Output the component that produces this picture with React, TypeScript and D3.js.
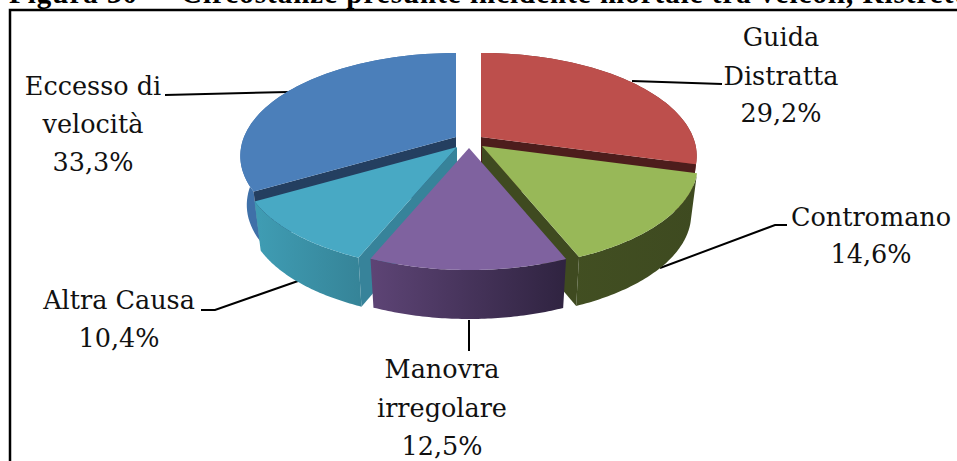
import React from "react";
import * as d3 from "d3";

const categories = ["Guida Distratta", "Contromano", "Manovra irregolare", "Altra Causa", "Eccesso di velocità"];
const shares = [29.2, 14.6, 12.5, 10.4, 33.3];
const shareLabels = ["29,2%", "14,6%", "12,5%", "10,4%", "33,3%"];

const topColors = ["#bd4f4c", "#98b858", "#7f629f", "#48a9c4", "#4b7fba"];
const radialColors = ["#4d1d1c", "#3f4a20", "#3b3052", "#37839a", "#243f60"];
const wallFrom = ["#7a302e", "#424f22", "#5d4475", "#3f9cb3", "#3f70a8"];
const wallTo = ["#7a302e", "#3e4a20", "#2f2340", "#337d90", "#3f70a8"];
const apexX = [481, 482, 469, 457, 456];
const apexY = [137, 146, 148, 147, 137];
const drawOrder = [4, 0, 3, 1, 2];

const RX = 212, RY = 99.5, K = 0.1844, DEPTH = 49, BOTTOM_X = 0.97;
const FONT = "'DejaVu Serif', serif";
const TITLE_FONT = "'Liberation Serif', serif";
const FS = 25.5;

const wallRange = [[241, 260], [565, 700], [372, 567], [258, 390], [241, 262]];

const slices = d3.pie<number>().sort(null).startAngle(0).endAngle(2 * Math.PI)(shares);

type P = [number, number];
const line = d3.line<P>().x(d => d[0]).y(d => d[1]);

function project(i: number, a: number): P {
  const u = Math.sin(a), v = -Math.cos(a);
  const s = 1 / (1 - K * v);
  return [apexX[i] + RX * u * s, apexY[i] + RY * v * s];
}
function arcPts(i: number, a0: number, a1: number): P[] {
  const t = d3.scaleLinear().domain([0, 60]).range([a0, a1]);
  return d3.range(61).map(k => project(i, t(k)));
}
const drop = (i: number, p: P): P => [apexX[i] + (p[0] - apexX[i]) * BOTTOM_X, p[1] + DEPTH];

const labels = [
  { lines: ["Guida", "Distratta", shareLabels[0]], x: 781, y: [46, 85, 122], leader: [[632, 81], [722, 84]] },
  { lines: ["Contromano", shareLabels[1]], x: 871, y: [226, 263], leader: [[660, 268], [775, 225], [787, 225]] },
  { lines: ["Manovra", "irregolare", shareLabels[2]], x: 442, y: [378, 417, 455], leader: [[469, 320], [469, 351]] },
  { lines: ["Altra Causa", shareLabels[3]], x: 119, y: [309, 347], leader: [[298, 281], [215, 310], [201, 310]] },
  { lines: ["Eccesso di", "velocità", shareLabels[4]], x: 93, y: [95, 133, 171], leader: [[288, 92], [165, 95]] },
];

export default function App() {
  return (
    <svg width={957} height={461} style={{ position: "absolute", left: 0, top: 0, background: "#fff" }}>
      <defs>
        {categories.map((_, i) => (
          <linearGradient key={i} id={`w${i}`} gradientUnits="userSpaceOnUse"
            x1={wallRange[i][0]} x2={wallRange[i][1]} y1={0} y2={0}>
            <stop offset="0" stopColor={wallFrom[i]} />
            <stop offset="1" stopColor={wallTo[i]} />
          </linearGradient>
        ))}
      </defs>
      <g fontFamily={TITLE_FONT} fontWeight="bold" fontSize={29} letterSpacing={1}>
        <text x={9} y={3}>Figura 30 –</text>
        <text x={181} y={3}>Circostanze presunte incidente mortale tra veicoli, Ristrette</text>
      </g>
      <path d="M10 461V10H957" fill="none" stroke="#000" strokeWidth={2.5} />
      {labels.map((l, i) => (
        <path key={i} d={line(l.leader as P[]) ?? ""} fill="none" stroke="#000" strokeWidth={2} />
      ))}
      {drawOrder.map(i => {
        const s = slices[i];
        const top = arcPts(i, s.startAngle, s.endAngle);
        const apex: P = [apexX[i], apexY[i]];
        const apexLow = drop(i, apex);
        const bottom = top.map(p => drop(i, p));
        const first = top[0], last = top[top.length - 1];
        const showStart = Math.sin(s.startAngle) < -1e-6;
        const showEnd = Math.sin(s.endAngle) > 1e-6;
        return (
          <g key={i}>
            <path d={line([...top, ...bottom.slice().reverse()]) + "Z"} fill={`url(#w${i})`} />
            {showStart && <path d={line([apex, first, drop(i, first), apexLow]) + "Z"} fill={radialColors[i]} />}
            {showEnd && <path d={line([apex, last, drop(i, last), apexLow]) + "Z"} fill={radialColors[i]} />}
            <path d={line([apex, ...top]) + "Z"} fill={topColors[i]} />
          </g>
        );
      })}
      {labels.map((l, i) => (
        <text key={i} fontFamily={FONT} fontSize={FS} fill="#111" textAnchor="middle">
          {l.lines.map((t, k) => <tspan key={k} x={l.x} y={l.y[k]}>{t}</tspan>)}
        </text>
      ))}
    </svg>
  );
}
